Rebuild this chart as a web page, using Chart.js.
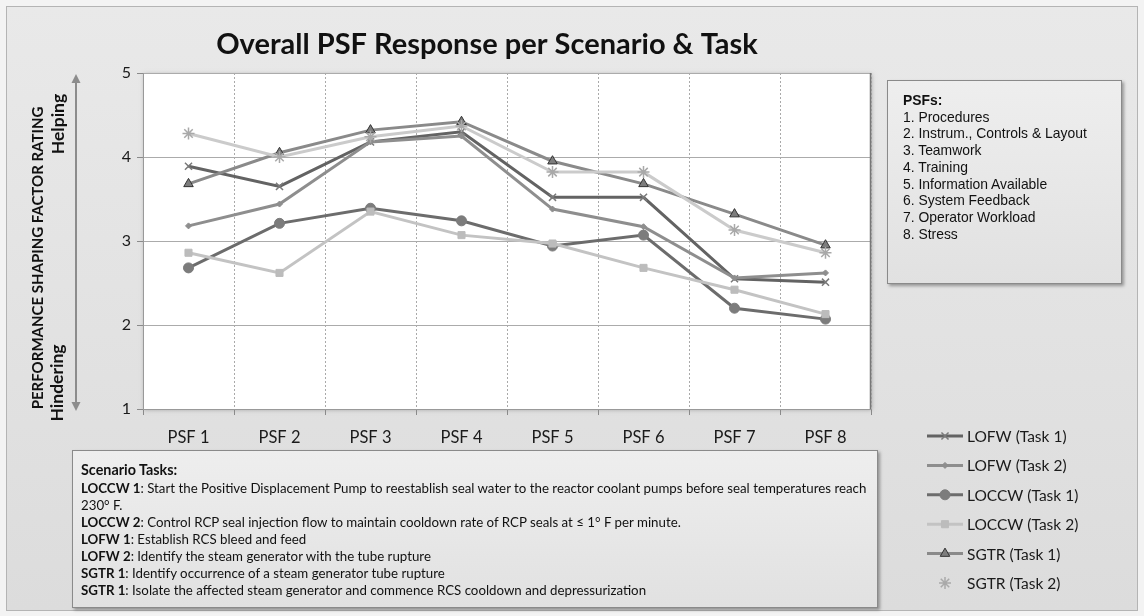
<!DOCTYPE html>
<html>
<head>
<meta charset="utf-8">
<title>Overall PSF Response per Scenario &amp; Task</title>
<script src="https://cdn.jsdelivr.net/npm/chart.js@4.4.0/dist/chart.umd.min.js"></script>
<style>
  body { margin: 0; background: #f3f3f3; }
  #wrap { position: relative; width: 1144px; height: 616px; overflow: hidden; }
  #chart { position: absolute; left: 0; top: 0; }
  .box {
    position: absolute; box-sizing: border-box;
    border: 1px solid #8a8a8a;
    background: linear-gradient(#eeeeee, #e1e1e1);
    box-shadow: 2px 2px 3px rgba(0, 0, 0, 0.35);
    color: #111;
  }
  #psfBox {
    left: 887px; top: 80px; width: 235px; height: 204px;
    padding: 11px 0 0 15px;
    font: 13.9px "Liberation Sans", Arial, sans-serif; line-height: 16.7px;
  }
  #psfBox .head { font-weight: bold; }
  #taskBox {
    left: 72px; top: 450px; width: 806px; height: 158px;
    padding: 10px 0 0 8px;
    font-family: Lato, "Open Sans", sans-serif; font-size: 12px; line-height: 17px;
  }
  #taskBox div { white-space: nowrap; width: max-content; }
  #taskBox .head { font-weight: bold; font-size: 1.08em; margin-bottom: 2px; }
</style>
</head>
<body>
<div id="wrap">
  <canvas id="chart" width="1144" height="616"></canvas>
  <div class="box" id="psfBox"></div>
  <div class="box" id="taskBox"></div>
</div>
<script>
  // ratings per PSF, one array per scenario task
  const categories = ['PSF 1', 'PSF 2', 'PSF 3', 'PSF 4', 'PSF 5', 'PSF 6', 'PSF 7', 'PSF 8'];
  const lofwTask1  = [3.89, 3.65, 4.18, 4.30, 3.52, 3.52, 2.55, 2.51];
  const lofwTask2  = [3.18, 3.44, 4.18, 4.25, 3.38, 3.17, 2.56, 2.62];
  const loccwTask1 = [2.68, 3.21, 3.39, 3.24, 2.94, 3.07, 2.20, 2.07];
  const loccwTask2 = [2.86, 2.62, 3.35, 3.07, 2.97, 2.68, 2.42, 2.13];
  const sgtrTask1  = [3.68, 4.05, 4.32, 4.42, 3.95, 3.68, 3.32, 2.95];
  const sgtrTask2  = [4.28, 4.00, 4.24, 4.37, 3.82, 3.82, 3.13, 2.86];
  const yTicks = [1, 2, 3, 4, 5];

  const psfNames = ['Procedures', 'Instrum., Controls & Layout', 'Teamwork', 'Training',
    'Information Available', 'System Feedback', 'Operator Workload', 'Stress'];

  const scenarioTasks = [
    ['LOCCW 1', 'Start the Positive Displacement Pump to reestablish seal water to the reactor coolant pumps before seal temperatures reach', '230° F.'],
    ['LOCCW 2', 'Control RCP seal injection flow to maintain cooldown rate of RCP seals at \u2264 1° F per  minute.'],
    ['LOFW 1', 'Establish RCS bleed and feed'],
    ['LOFW 2', 'Identify the steam generator with the tube rupture'],
    ['SGTR 1', 'Identify occurrence of a steam generator tube rupture'],
    ['SGTR 1', 'Isolate the affected steam generator and commence RCS cooldown and depressurization']
  ];

  // side boxes
  const psfBox = document.getElementById('psfBox');
  psfBox.innerHTML = '<div class="head">PSFs:</div>' +
    psfNames.map((n, i) => '<div>' + (i + 1) + '. ' + n.replace('&', '&amp;') + '</div>').join('');

  const taskBox = document.getElementById('taskBox');
  let html = '<div class="head">Scenario Tasks:</div>';
  scenarioTasks.forEach(t => {
    html += '<div><b>' + t[0] + '</b>: ' + t[1] + '</div>';
    if (t[2]) html += '<div>' + t[2] + '</div>';
  });
  taskBox.innerHTML = html;
  // the longest line runs almost to the right edge of the box
  const firstLine = taskBox.children[1];
  const w = firstLine.getBoundingClientRect().width;
  taskBox.style.fontSize = (12 * 786 / w).toFixed(2) + 'px';

  const FONT = 'Lato, "Open Sans", sans-serif';

  const bgPlugin = {
    id: 'bg',
    beforeDraw(chart) {
      const ctx = chart.ctx;
      const a = chart.chartArea;
      ctx.save();
      ctx.fillStyle = '#f3f3f3';
      ctx.fillRect(0, 0, chart.width, chart.height);
      const g = ctx.createLinearGradient(0, 6, 0, 611);
      g.addColorStop(0, '#e9e9e9');
      g.addColorStop(1, '#dcdcdc');
      ctx.fillStyle = g;
      ctx.fillRect(6, 6, chart.width - 12, chart.height - 11);
      ctx.strokeStyle = '#b4b4b4';
      ctx.lineWidth = 1;
      ctx.strokeRect(6.5, 6.5, chart.width - 13, chart.height - 12);
      // plot area
      ctx.shadowColor = 'rgba(0,0,0,0.25)';
      ctx.shadowBlur = 4;
      ctx.shadowOffsetX = 1;
      ctx.shadowOffsetY = 1;
      ctx.fillStyle = '#ffffff';
      ctx.fillRect(a.left, a.top, a.right - a.left, a.bottom - a.top);
      ctx.restore();
    },
    afterDraw(chart) {
      const ctx = chart.ctx;
      const a = chart.chartArea;
      ctx.save();
      // right edge of plot area
      ctx.strokeStyle = '#777';
      ctx.lineWidth = 1.5;
      ctx.beginPath();
      ctx.moveTo(a.right - 0.5, a.top);
      ctx.lineTo(a.right - 0.5, a.bottom);
      ctx.stroke();

      // rating axis: title, direction words and arrow
      ctx.fillStyle = '#111';
      ctx.textAlign = 'center';
      ctx.textBaseline = 'middle';
      const rotText = (txt, x, y, font) => {
        ctx.save();
        ctx.translate(x, y);
        ctx.rotate(-Math.PI / 2);
        ctx.font = font;
        ctx.fillText(txt, 0, 0);
        ctx.restore();
      };
      rotText('PERFORMANCE SHAPING FACTOR RATING', 38, 258, 'bold 15px ' + FONT);
      rotText('Helping', 58, 124, 'bold 17.5px ' + FONT);
      rotText('Hindering', 57, 383, 'bold 17.5px ' + FONT);

      const ax = 76, y0 = a.top + 1, y1 = a.bottom + 2;
      ctx.strokeStyle = '#8c8c8c';
      ctx.fillStyle = '#8c8c8c';
      ctx.lineWidth = 2;
      ctx.beginPath();
      ctx.moveTo(ax, y0 + 6);
      ctx.lineTo(ax, y1 - 6);
      ctx.stroke();
      ctx.beginPath();
      ctx.moveTo(ax, y0); ctx.lineTo(ax - 4.5, y0 + 9); ctx.lineTo(ax + 4.5, y0 + 9); ctx.closePath();
      ctx.fill();
      ctx.beginPath();
      ctx.moveTo(ax, y1); ctx.lineTo(ax - 4.5, y1 - 9); ctx.lineTo(ax + 4.5, y1 - 9); ctx.closePath();
      ctx.fill();

      // legend
      ctx.textAlign = 'left';
      ctx.font = '15.5px ' + FONT;
      chart.data.datasets.forEach((ds, i) => {
        const y = 436 + i * 29.4;
        if (ds.legendLine !== false) {
          ctx.strokeStyle = ds.borderColor;
          ctx.lineWidth = 3;
          ctx.beginPath();
          ctx.moveTo(927, y);
          ctx.lineTo(963, y);
          ctx.stroke();
        }
        ctx.fillStyle = ds.pointBackgroundColor;
        ctx.strokeStyle = ds.pointBorderColor;
        ctx.lineWidth = ds.pointBorderWidth;
        Chart.helpers.drawPoint(ctx, {
          pointStyle: ds.pointStyle, radius: ds.pointRadius, rotation: 0,
          borderWidth: ds.pointBorderWidth
        }, 945, y);
        ctx.fillStyle = '#1a1a1a';
        ctx.fillText(ds.label, 967, y + 1);
      });
      ctx.restore();
    }
  };

  const series = [
    { label: 'LOFW (Task 1)',  data: lofwTask1,  line: '#636363', fill: '#7a7a7a', edge: '#7a7a7a', style: 'crossRot', r: 5,   bw: 1.5 },
    { label: 'LOFW (Task 2)',  data: lofwTask2,  line: '#8e8e8e', fill: '#8e8e8e', edge: '#8e8e8e', style: 'rectRot',  r: 3,   bw: 1 },
    { label: 'LOCCW (Task 1)', data: loccwTask1, line: '#6c6c6c', fill: '#7c7c7c', edge: '#7c7c7c', style: 'circle',   r: 5,   bw: 1 },
    { label: 'LOCCW (Task 2)', data: loccwTask2, line: '#c3c3c3', fill: '#bcbcbc', edge: '#bcbcbc', style: 'rect',     r: 5,   bw: 1 },
    { label: 'SGTR (Task 1)',  data: sgtrTask1,  line: '#8a8a8a', fill: '#7d7d7d', edge: '#333333', style: 'triangle', r: 5.5, bw: 1 },
    { label: 'SGTR (Task 2)',  data: sgtrTask2,  line: '#cbcbcb', fill: '#a9a9a9', edge: '#a9a9a9', style: 'star',     r: 6,   bw: 1.5, noLegendLine: true }
  ];

  new Chart(document.getElementById('chart').getContext('2d'), {
    type: 'line',
    data: {
      labels: categories,
      datasets: series.map((s, i) => ({
        label: s.label,
        data: s.data,
        borderColor: s.line,
        borderWidth: 3,
        pointStyle: s.style,
        pointRadius: s.r,
        pointBackgroundColor: s.fill,
        pointBorderColor: s.edge,
        pointBorderWidth: s.bw,
        tension: 0,
        order: series.length - i,
        legendLine: !s.noLegendLine
      }))
    },
    options: {
      responsive: false,
      devicePixelRatio: 1,
      animation: false,
      layout: { padding: { left: 103, right: 273, top: 22, bottom: 162 } },
      scales: {
        x: {
          offset: true,
          grid: { offset: true, color: '#a9a9a9', tickColor: '#8a8a8a', tickLength: 6, lineWidth: 1 },
          border: { display: true, color: '#999', dash: [2, 2] },
          ticks: { color: '#1a1a1a', padding: 13, font: { family: FONT, size: 16.5 } },
          afterFit(scale) { scale.height = 45; }
        },
        y: {
          min: yTicks[0],
          max: yTicks[yTicks.length - 1],
          afterBuildTicks(scale) { scale.ticks = yTicks.map(v => ({ value: v })); },
          grid: { color: '#ababab', tickColor: '#8a8a8a', tickLength: 6 },
          border: { display: true, color: '#999' },
          ticks: { color: '#1a1a1a', padding: 6, font: { family: FONT, size: 16 } },
          afterFit(scale) { scale.width = 40; }
        }
      },
      plugins: {
        legend: { display: false },
        tooltip: { enabled: false },
        title: {
          display: true,
          text: 'Overall PSF Response per Scenario & Task',
          color: '#111',
          font: { family: FONT, size: 29, weight: 'bold' },
          padding: { top: 5.6, bottom: 10.6 }
        }
      }
    },
    plugins: [bgPlugin]
  });
</script>
</body>
</html>
